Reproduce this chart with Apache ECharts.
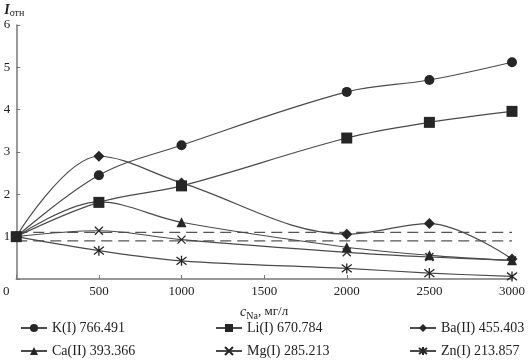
<!DOCTYPE html>
<html><head><meta charset="utf-8">
<script src="https://cdn.jsdelivr.net/npm/echarts@6/dist/echarts.min.js"></script>
<style>html,body{margin:0;padding:0;background:#fff}#c{width:528px;height:362px}</style>
</head><body><div id="c"></div>
<script>
const xValues = [0, 500, 1000, 2000, 2500, 3000];
const seriesNames = ['K(I) 766.491','Li(I) 670.784','Ba(II) 455.403','Ca(II) 393.366','Mg(I) 285.213','Zn(I) 213.857'];
const kValues  = [1, 2.45, 3.16, 4.42, 4.70, 5.12];
const liValues = [1, 1.81, 2.20, 3.33, 3.70, 3.96];
const baValues = [1, 2.90, 2.27, 1.06, 1.31, 0.47];
const caValues = [1, 1.82, 1.34, 0.75, 0.56, 0.44];
const mgValues = [1, 1.14, 0.93, 0.63, 0.52, 0.44];
const znValues = [1, 0.67, 0.43, 0.25, 0.14, 0.06];
const dashLevels = [1.1, 0.9];

const FONT = '"Liberation Serif", "DejaVu Serif", serif';
const LC = '#4a4a4a';
const MC = '#262626';
const xPath = 'path://M0,0L10,10M10,0L0,10';
const starPath = 'path://M0,0L10,10M10,0L0,10M5,-1.5L5,11.5';

const allValues = [kValues, liValues, baValues, caValues, mgValues, znValues];
const symbols = ['circle','rect','diamond','triangle', xPath, starPath];
const sizes = [10, 11, 11, 10, 8, 10];

const series = allValues.map((vals, i) => {
  const stroked = i >= 4;
  return {
    name: seriesNames[i], type: 'line', smooth: 0.35,
    data: xValues.map((x, j) => [x, vals[j]]),
    symbol: symbols[i], symbolSize: sizes[i], showSymbol: true,
    lineStyle: {color: LC, width: 1.2},
    itemStyle: stroked ? {color: 'rgba(0,0,0,0)', borderColor: MC, borderWidth: 1.3} : {color: MC, borderWidth: 0},
    emphasis: {disabled: true}, z: 3
  };
});
dashLevels.forEach((lv) => {
  series.push({
    type: 'line', data: [[0, lv], [3000, lv]], symbol: 'none', silent: true,
    lineStyle: {color: '#555', width: 1.2, type: [11, 6]}, z: 2
  });
});

const legendPos = [[15,316],[210,316],[404,316],[15,339],[210,339],[404,339]];
const legends = seriesNames.map((n, i) => ({
  data: [n], left: legendPos[i][0], top: legendPos[i][1],
  itemWidth: 26, itemHeight: 10, itemGap: 4,
  textStyle: {fontFamily: FONT, fontSize: 14, color: '#222', padding: [0,0,0,0]},
  selectedMode: false
}));

const chart = echarts.init(document.getElementById('c'), null, {renderer: 'canvas'});
chart.setOption({
  animation: false,
  backgroundColor: '#fff',
  grid: {left: 13, right: 13, top: 25, bottom: 83, containLabel: false},
  legend: legends,
  xAxis: {
    type: 'value', min: 0, max: 3000, interval: 500,
    name: '{i|c}{s|Na}{n|, мг/л}', nameLocation: 'middle', nameGap: 24,
    nameTextStyle: {rich: {
      i: {fontFamily: FONT, fontStyle: 'italic', fontSize: 14, color: '#222'},
      s: {fontFamily: FONT, fontSize: 10, color: '#222', verticalAlign: 'bottom', padding: [8,0,0,0]},
      n: {fontFamily: FONT, fontSize: 13, color: '#222'}
    }},
    axisLine: {lineStyle: {color: '#777', width: 1.5}},
    axisTick: {inside: true, length: 4, lineStyle: {color: '#777'}},
    splitLine: {show: false},
    axisLabel: {fontFamily: FONT, fontSize: 13, color: '#222', margin: 6,
      formatter: v => v === 0 ? '{z|0}' : String(v),
      rich: {z: {fontFamily: FONT, fontSize: 13, color: '#222', padding: [0, 20, 0, 0]}}}
  },
  yAxis: {
    type: 'value', min: 0, max: 6, interval: 1,
    name: '{I|I}{s|отн}', nameLocation: 'end', nameGap: 6,
    nameTextStyle: {align: 'left', padding: [0,0,0,-12], rich: {
      I: {fontFamily: FONT, fontStyle: 'italic', fontWeight: 'bold', fontSize: 14, color: '#222'},
      s: {fontFamily: FONT, fontSize: 10, color: '#222', padding: [6,0,0,0]}
    }},
    axisLine: {show: true, lineStyle: {color: '#777', width: 1.5}},
    axisTick: {show: true, inside: true, length: 4, lineStyle: {color: '#777'}},
    splitLine: {show: false},
    axisLabel: {fontFamily: FONT, fontSize: 13, color: '#222', margin: 6,
      formatter: v => v === 0 ? '' : String(v)}
  },
  series: series
});
</script></body></html>
